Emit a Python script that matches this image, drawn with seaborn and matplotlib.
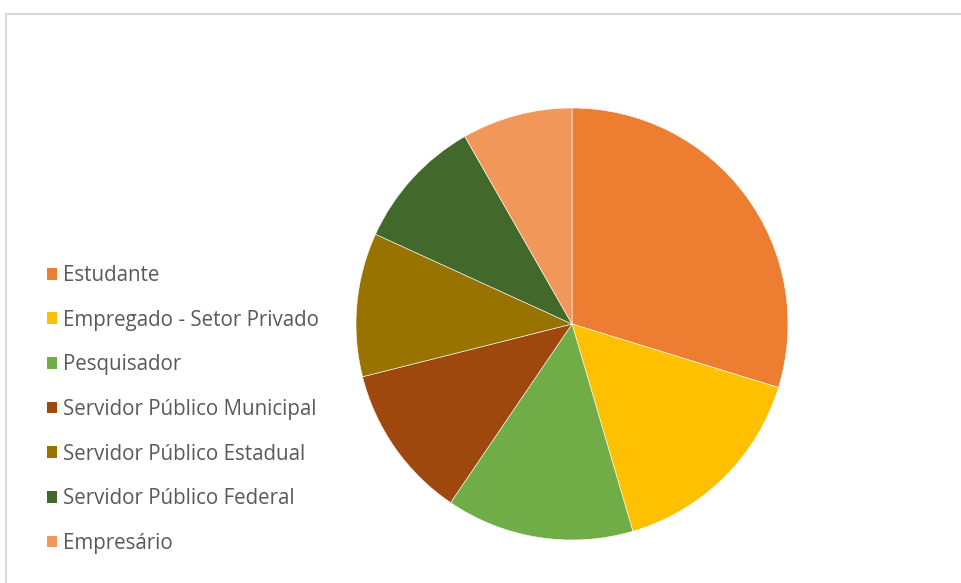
import matplotlib
matplotlib.use("Agg")
import matplotlib.pyplot as plt
import seaborn as sns

# Occupation breakdown of respondents
categories = [
    "Estudante",
    "Empregado - Setor Privado",
    "Pesquisador",
    "Servidor Público Municipal",
    "Servidor Público Estadual",
    "Servidor Público Federal",
    "Empresário",
]
counts = [36, 19, 17, 14, 13, 12, 10]
colors = ["#ED7D31", "#FFC000", "#70AD47", "#9E480E", "#997300", "#43682B", "#F1975A"]

sns.set_theme(style="white")
plt.rcParams["font.family"] = ["Open Sans", "DejaVu Sans"]
palette = sns.color_palette(colors)

W, H = 961, 583
fig = plt.figure(figsize=(W / 100, H / 100), dpi=100)

# pie axes: centre (572, 324), radius 216 px
cx, cy, r = 572, 324, 216
ax = fig.add_axes([(cx - r) / W, (H - cy - r) / H, 2 * r / W, 2 * r / H])
wedges, _ = ax.pie(
    counts,
    colors=palette,
    startangle=90,
    counterclock=False,
    radius=1,
    wedgeprops=dict(edgecolor="white", linewidth=0.4),
)
ax.set_xlim(-1, 1)
ax.set_ylim(-1, 1)
ax.set_aspect("equal")
ax.axis("off")

# legend on the left
leg = fig.legend(
    wedges,
    categories,
    loc="upper left",
    bbox_to_anchor=(47 / W, 1 - 265 / H),
    frameon=False,
    fontsize=14.8,
    handlelength=0.5,
    handleheight=0.5,
    handletextpad=0.3,
    labelspacing=1.15,
    borderpad=0,
    borderaxespad=0,
)
for t in leg.get_texts():
    t.set_color("#595959")
for h in leg.legend_handles:
    h.set_edgecolor("none")

# light chart-area border
fig.add_artist(plt.Rectangle((6 / W, -0.05), 1.2, 1 - 14 / H + 0.05,
                             transform=fig.transFigure, fill=False,
                             edgecolor="#d9d9d9", linewidth=1.5))

fig.savefig("out.png", dpi=100, facecolor="white")
